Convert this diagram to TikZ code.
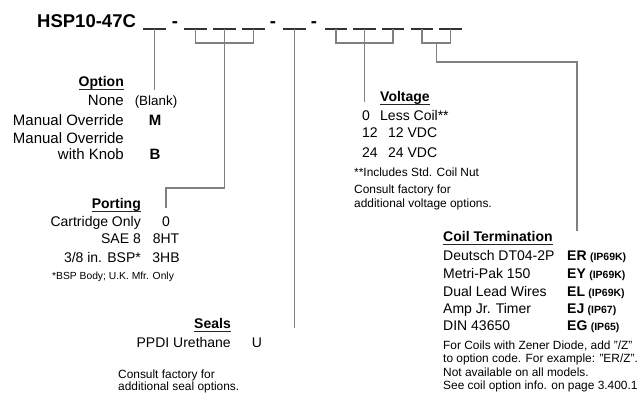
\documentclass[tikz,border=0pt]{standalone}
\usepackage{fontspec}
\setmainfont{Liberation Sans}

\tikzset{
    txt/.style={anchor=base east,inner sep=0pt,font=\fontsize{14}{16}\selectfont},
    ltxt/.style={txt,anchor=base west},
    bigtxt/.style={txt,font=\fontsize{15}{17}\selectfont},
    head/.style={txt,font=\fontsize{14}{16}\selectfont\bfseries},
    code/.style={anchor=base,inner sep=0pt,font=\fontsize{14}{16}\selectfont},
    bcode/.style={code,font=\fontsize{14}{16}\selectfont\bfseries},
    iptxt/.style={anchor=base west,inner sep=0pt,font=\fontsize{10.5}{12}\selectfont\bfseries},
    note/.style={anchor=base west,inner sep=0pt,font=\fontsize{11.9}{13}\selectfont},
    conn/.style={draw=black!50,line width=1.2pt},
    blank/.style={draw=black!80,line width=1.3pt},
    uline/.style={draw=black!85,line width=0.8pt}
}

\begin{document}
\begin{tikzpicture}[x=1pt,y=-1pt]
    \useasboundingbox (0,0) rectangle (640,394);

    % model code
    \begin{scope}[every node/.style={anchor=base,inner sep=0pt,font=\fontsize{18.5}{20}\selectfont\bfseries}]
        \node[anchor=base west] (title) at (37,27) {HSP10-47C};
        \node (d1) at (175,27) {-};
        \node (d2) at (273,27) {-};
        \node (d3) at (314,27) {-};
    \end{scope}

    \foreach \name/\a/\b in {b1/143/166, b2/184/207, b3/213/236, b4/242/265, b5/283/306,
                             b6/325/347, b7/353/376, b8/382/404, b9/411/433, b10/439/462}
        \draw[blank] (\a,29) -- coordinate (\name) (\b,29);

    % option
    \node[head] (opthead) at (124,86.7) {Option};
    \node[bigtxt] (optnone) at (124,105.7) {None};
    \node[bigtxt] (optman) at (124,125) {Manual Override};
    \node[bigtxt] (optman2) at (124,143.3) {Manual Override};
    \node[bigtxt] (optknob) at (124,159.3) {with Knob};
    \node[code,font=\fontsize{13.4}{15}\selectfont] (optblank) at (156,105.7) {(Blank)};
    \node[bcode,font=\fontsize{15}{17}\selectfont\bfseries] (optm) at (155,125) {M};
    \node[bcode,font=\fontsize{15}{17}\selectfont\bfseries] (optb) at (155,159.3) {B};

    % porting
    \node[head] (porthead) at (141,208.3) {Porting};
    \node[txt] (portcart) at (141,226) {Cartridge Only};
    \node[txt] (portsae) at (141,243.3) {SAE 8};
    \node[txt] (portbsp) at (141,262) {3/8 in. BSP*};
    \node[code] (p0) at (166,226) {0};
    \node[code] (p8ht) at (166,243.3) {8HT};
    \node[code] (p3hb) at (166,262) {3HB};
    \node[note,font=\fontsize{10.3}{12}\selectfont] (portnote) at (52,279) {*BSP Body; U.K. Mfr. Only};

    % seals
    \node[head] (sealhead) at (231,328.3) {Seals};
    \node[txt] (sealppdi) at (231,347.7) {PPDI Urethane};
    \node[code] (sealu) at (257,347.7) {U};
    \node[note] (sealnote) at (118,378.5) {Consult factory for};
    \node[note] (sealnote2) at (118,390.8) {additional seal options.};

    % voltage
    \node[head,anchor=base west] (volthead) at (380,101.7) {Voltage};
    \node[ltxt] (v0) at (362,120.3) {0};
    \node[ltxt] (v12) at (362,137.3) {12};
    \node[ltxt] (v24) at (362,157) {24};
    \node[ltxt] (vless) at (380,120.3) {Less Coil**};
    \node[ltxt] (v12vdc) at (388,137.3) {12 VDC};
    \node[ltxt] (v24vdc) at (388,157) {24 VDC};
    \node[note] (voltnote) at (354,176) {**Includes Std. Coil Nut};
    \node[note] (voltnote2) at (354,193.3) {Consult factory for};
    \node[note] (voltnote3) at (354,207.7) {additional voltage options.};

    % coil termination
    \node[head,anchor=base west] (coilhead) at (443,241.7) {Coil Termination};
    \foreach \name/\y/\label/\code/\ip in {er/260.7/Deutsch DT04-2P/ER/IP69K,
                                           ey/278.3/Metri-Pak 150/EY/IP69K,
                                           el/296/Dual Lead Wires/EL/IP69K,
                                           ej/313.3/Amp Jr. Timer/EJ/IP67,
                                           eg/330.7/DIN 43650/EG/IP65} {
        \node[ltxt] (\name txt) at (443,\y) {\label};
        \node[bcode,anchor=base west] (\name) at (567,\y) {\code};
        \node[iptxt] (\name ip) at ([xshift=3pt]\name.base east) {(\ip)};
    }
    \node[note] (coilnote) at (443,349) {For Coils with Zener Diode, add "/Z"};
    \node[note] (coilnote2) at (443,362.7) {to option code. For example: "ER/Z".};
    \node[note] (coilnote3) at (443,376) {Not available on all models.};
    \node[note] (coilnote4) at (443,389) {See coil option info. on page 3.400.1};

    % underlines
    \foreach \h in {opthead,porthead,sealhead,volthead,coilhead}
        \draw[uline] ([yshift=-2.6pt]\h.base west) -- ([yshift=-2.6pt]\h.base east);

    % connectors
    \draw[conn] (b1) -- (b1 |- opthead.south);
    \draw[conn] (b2) -- ++(0,14) -| (b4);
    \draw[conn] (b3) -- ++(0,159) -| (p0 |- porthead.base);
    \draw[conn] (b5) -- (b5 |- sealhead.base);
    \draw[conn] (b6) -- ++(0,14) -| (b8);
    \draw[conn] (b7) -- (b7 |- volthead.base);
    \draw[conn] (b9) -- ++(0,14) -| coordinate[pos=0.25] (cbr) (b10);
    \draw[conn] (cbr) -- ++(0,19) -| (er |- coilhead.north);

\end{tikzpicture}
\end{document}
